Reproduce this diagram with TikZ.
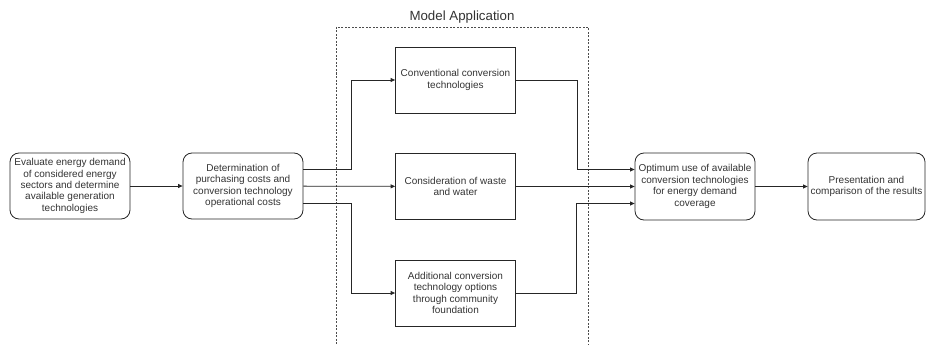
\documentclass[tikz,border=0pt]{standalone}
\usepackage{fontspec}
\setmainfont{Liberation Sans}
\usetikzlibrary{arrows.meta}

\tikzset{
    stepround/.style={draw=black!85, line width=0.8pt, rounded corners=9pt,
        minimum width=120pt, minimum height=66pt, align=center, inner sep=1pt,
        text=black!80, font=\fontsize{10}{11.4}\selectfont},
    stepbox/.style={stepround, rounded corners=0pt},
    arr/.style={draw=black!85, line width=0.8pt, -{Triangle[length=4.5pt,width=4pt]}},
}

\begin{document}
\begin{tikzpicture}[x=1pt,y=-1pt]
    \useasboundingbox (0,0) rectangle (926,345);

    % Model application frame
    \draw[black!70, line width=0.8pt, dash pattern=on 2pt off 1.5pt] (336,27) rectangle (588,370);
    \node[text=black!80, font=\fontsize{13.3}{15}\selectfont] (title) at (462,17) {Model Application};

    % Boxes
    \node[stepround] (eval) at (70,186) {Evaluate energy demand\\of considered energy\\sectors and determine\\available generation\\technologies};
    \node[stepround] (det) at (243,186) {Determination of\\purchasing costs and\\conversion technology\\operational costs};
    \node[stepbox] (conv) at (455.5,80) {Conventional conversion\\technologies};
    \node[stepbox] (waste) at (455.5,186.5) {Consideration of waste\\and water};
    \node[stepbox] (add) at (455.5,293) {Additional conversion\\technology options\\through community\\foundation};
    \node[stepround, minimum height=67pt] (opt) at (695,186.5) {Optimum use of available\\conversion technologies\\for energy demand\\coverage};
    \node[stepround, minimum height=67pt, minimum width=117pt] (pres) at (866.5,186.5) {Presentation and\\comparison of the results};

    % Connectors
    \draw[arr] (eval) -- (det);
    \draw[arr] ([yshift=17pt]det.east) -- ++(48,0) |- (conv.west);
    \draw[arr] (det) -- (waste);
    \draw[arr] ([yshift=-17pt]det.east) -- ++(48,0) |- (add.west);
    \draw[arr] (conv.east) -- ++(61,0) |- ([yshift=17pt]opt.west);
    \draw[arr] (waste) -- (opt);
    \draw[arr] (add.east) -- ++(60,0) |- ([yshift=-17pt]opt.west);
    \draw[arr] (opt) -- (pres);
\end{tikzpicture}
\end{document}
